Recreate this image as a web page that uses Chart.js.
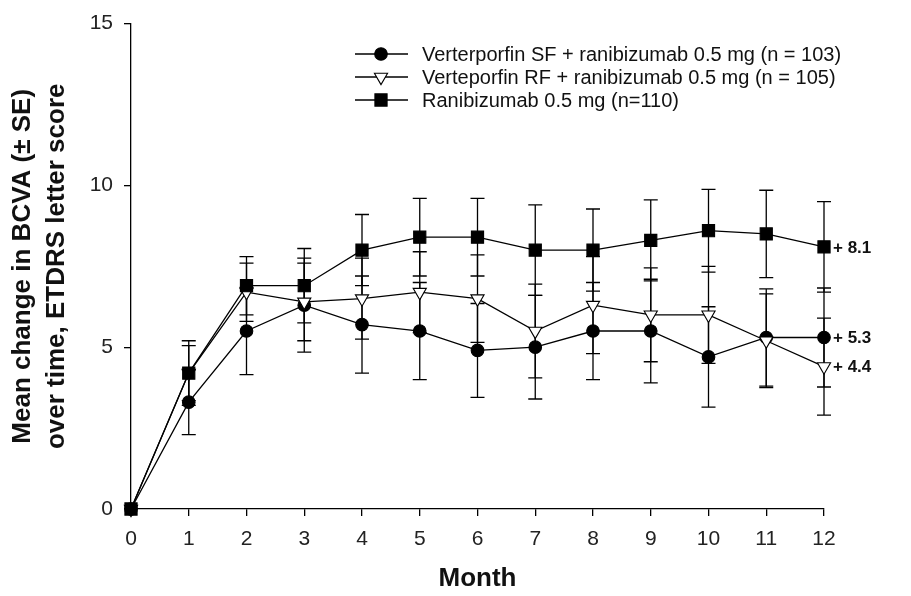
<!DOCTYPE html>
<html>
<head>
<meta charset="utf-8">
<script src="https://cdn.jsdelivr.net/npm/chart.js@4.4.1/dist/chart.umd.min.js"></script>
<style>
  html, body { margin: 0; padding: 0; background: #fff; }
  #wrap { width: 911px; height: 596px; }
</style>
</head>
<body>
<div id="wrap"><canvas id="c" width="911" height="596"></canvas></div>
<script>
// Study visits (months since baseline)
const months = [0, 1, 2, 3, 4, 5, 6, 7, 8, 9, 10, 11, 12];

// Mean change in BCVA and standard error per arm
const sfMean  = [0, 3.3, 5.5, 6.3, 5.7, 5.5, 4.9, 5.0, 5.5, 5.5, 4.7, 5.3, 5.3];
const sfSE    = [0, 1.0, 1.35, 1.45, 1.5, 1.5, 1.45, 1.6, 1.5, 1.6, 1.55, 1.5, 1.53];
const rfMean  = [0, 4.2, 6.7, 6.4, 6.5, 6.7, 6.5, 5.5, 6.3, 6.0, 6.0, 5.2, 4.4];
const rfSE    = [0, 0.85, 0.9, 1.2, 1.25, 1.25, 1.35, 1.45, 1.5, 1.45, 1.5, 1.45, 1.5];
const ranMean = [0, 4.2, 6.9, 6.9, 8.0, 8.4, 8.4, 8.0, 8.0, 8.3, 8.6, 8.5, 8.1];
const ranSE   = [0, 1.0, 0.9, 1.15, 1.1, 1.2, 1.2, 1.4, 1.27, 1.25, 1.28, 1.35, 1.4];

const seriesNames = [
  'Verterporfin SF + ranibizumab 0.5 mg (n = 103)',
  'Verteporfin RF + ranibizumab 0.5 mg (n = 105)',
  'Ranibizumab 0.5 mg (n=110)'
];

const yTicks = [0, 5, 10, 15];
const yTitle = ['Mean change in BCVA (\u00B1 SE)', 'over time, ETDRS letter score'];
const xTitle = 'Month';

const FONT = '"Liberation Sans", Arial, Helvetica, sans-serif';
const INK = '#111';

const markerDefs = [
  { style: 'circle',   radius: 6.3, fill: '#000' },
  { style: 'triangle', radius: 7.6, fill: '#fff', rotation: 180 },
  { style: 'rect',     radius: 8.6, fill: '#000' }
];
const means = [sfMean, rfMean, ranMean];
const errors = [sfSE, rfSE, ranSE];

function toPoints(vals) { return months.map((m, i) => ({ x: m, y: vals[i] })); }

const datasets = means.map((vals, k) => ({
  label: seriesNames[k],
  data: toPoints(vals),
  borderColor: '#000',
  borderWidth: 1.3,
  tension: 0,
  fill: false,
  clip: false,
  pointStyle: markerDefs[k].style,
  pointRadius: markerDefs[k].radius,
  pointHoverRadius: markerDefs[k].radius,
  pointRotation: markerDefs[k].rotation || 0,
  pointBackgroundColor: markerDefs[k].fill,
  pointBorderColor: '#000',
  pointBorderWidth: 1.1,
  order: 2 - k
}));

// Vertical +/- SE whiskers with caps, drawn beneath the lines and markers
const errorBars = {
  id: 'errorBars',
  beforeDatasetsDraw(chart) {
    const { ctx, scales: { x, y } } = chart;
    ctx.save();
    ctx.strokeStyle = '#000';
    ctx.lineWidth = 1.3;
    const cap = 7;
    errors.forEach((se, k) => {
      se.forEach((e, i) => {
        if (!e) return;
        const px = x.getPixelForValue(months[i]);
        const hi = y.getPixelForValue(means[k][i] + e);
        const lo = y.getPixelForValue(means[k][i] - e);
        ctx.beginPath();
        ctx.moveTo(px, hi); ctx.lineTo(px, lo);
        ctx.moveTo(px - cap, hi); ctx.lineTo(px + cap, hi);
        ctx.moveTo(px - cap, lo); ctx.lineTo(px + cap, lo);
        ctx.stroke();
      });
    });
    ctx.restore();
  }
};

// Final-visit value written next to the last marker of each arm
const endLabels = {
  id: 'endLabels',
  afterDatasetsDraw(chart) {
    const { ctx, scales: { x, y } } = chart;
    ctx.save();
    ctx.font = 'bold 17px ' + FONT;
    ctx.fillStyle = INK;
    ctx.textAlign = 'left';
    ctx.textBaseline = 'middle';
    const last = months.length - 1;
    means.forEach(vals => {
      const v = vals[last];
      ctx.fillText('+ ' + v.toFixed(1), x.getPixelForValue(months[last]) + 9, y.getPixelForValue(v) + 1);
    });
    ctx.restore();
  }
};

function drawMarker(ctx, def, cx, cy) {
  ctx.beginPath();
  const r = def.radius;
  if (def.style === 'circle') {
    ctx.arc(cx, cy, r, 0, Math.PI * 2);
  } else if (def.style === 'rect') {
    const h = r * Math.SQRT1_2;
    ctx.rect(cx - h, cy - h, 2 * h, 2 * h);
  } else {
    // downward-pointing triangle
    ctx.moveTo(cx, cy + r);
    ctx.lineTo(cx - r * Math.sin(Math.PI / 3), cy - r / 2);
    ctx.lineTo(cx + r * Math.sin(Math.PI / 3), cy - r / 2);
    ctx.closePath();
  }
  ctx.fillStyle = def.fill;
  ctx.fill();
  ctx.lineWidth = 1.1;
  ctx.strokeStyle = '#000';
  ctx.stroke();
}

// Legend: line sample with marker, followed by the arm name
const lineLegend = {
  id: 'lineLegend',
  afterDraw(chart) {
    const { ctx } = chart;
    ctx.save();
    const rows = [54, 77, 100];
    const x0 = 355, x1 = 408, xm = 381, xt = 422;
    ctx.font = '20px ' + FONT;
    ctx.textBaseline = 'middle';
    ctx.textAlign = 'left';
    seriesNames.forEach((name, k) => {
      const yy = rows[k];
      ctx.strokeStyle = '#000';
      ctx.lineWidth = 1.3;
      ctx.beginPath();
      ctx.moveTo(x0, yy); ctx.lineTo(x1, yy);
      ctx.stroke();
      drawMarker(ctx, markerDefs[k], xm, yy);
      ctx.fillStyle = INK;
      ctx.fillText(name, xt, yy + 1);
    });
    ctx.restore();
  }
};

new Chart(document.getElementById('c'), {
  type: 'line',
  data: { datasets },
  plugins: [errorBars, endLabels, lineLegend],
  options: {
    responsive: false,
    animation: false,
    devicePixelRatio: 1,
    layout: { padding: { top: 22, right: 87, left: 0, bottom: 0 } },
    plugins: { legend: { display: false }, tooltip: { enabled: false } },
    scales: {
      x: {
        type: 'linear',
        min: 0,
        max: 12,
        afterFit(s) { s.height = 87; },
        afterBuildTicks(s) { s.ticks = months.map(v => ({ value: v })); },
        ticks: { color: '#222', font: { family: FONT, size: 21 }, padding: 11, maxRotation: 0 },
        grid: { drawOnChartArea: false, drawTicks: true, tickLength: 7, color: '#000', lineWidth: 1.3 },
        border: { display: true, color: '#000', width: 1.3 },
        title: { display: true, text: xTitle, color: INK, font: { family: FONT, size: 26, weight: 'bold' }, padding: { top: 0, bottom: 2 } }
      },
      y: {
        min: 0,
        max: 15,
        afterFit(s) { s.width = 131; },
        afterBuildTicks(s) { s.ticks = yTicks.map(v => ({ value: v })); },
        ticks: { color: '#222', font: { family: FONT, size: 21 }, padding: 11 },
        grid: { drawOnChartArea: false, drawTicks: true, tickLength: 7, color: '#000', lineWidth: 1.3 },
        border: { display: true, color: '#000', width: 1.3 },
        title: { display: true, text: yTitle, color: INK, font: { family: FONT, size: 26, weight: 'bold', lineHeight: 1.3 }, padding: { top: 6, bottom: 0 } }
      }
    }
  }
});
</script>
</body>
</html>
